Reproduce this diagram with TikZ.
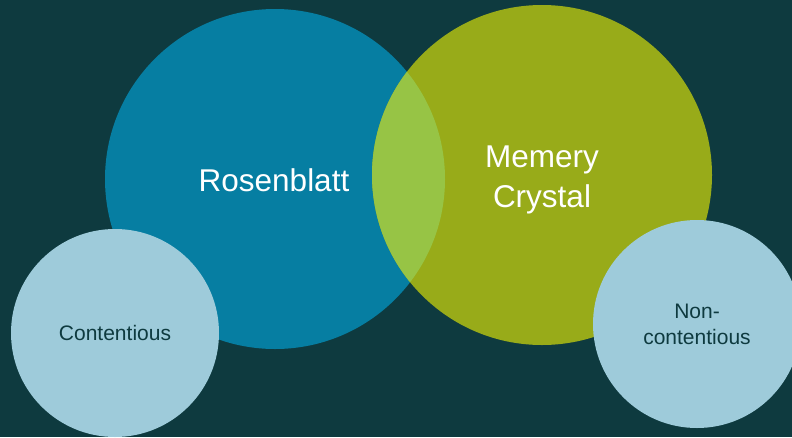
\documentclass[tikz,border=0pt]{standalone}
\usepackage{fontspec}
\setmainfont{Liberation Sans}
\definecolor{bg}{HTML}{0E3A3F}
\definecolor{bigblue}{HTML}{067EA2}
\definecolor{biggreen}{HTML}{98AB19}
\definecolor{overlap}{HTML}{97C445}
\definecolor{lightc}{HTML}{9ECBDA}
\begin{document}
\begin{tikzpicture}[x=1pt,y=-1pt,
  bigcirc/.style={circle,minimum size=340pt,inner sep=0pt,draw=none},
  smallcirc/.style={circle,minimum size=208pt,inner sep=0pt,fill=lightc,draw=none,
     text=bg,font=\fontsize{21}{26}\selectfont,align=center},
  biglabel/.style={text=white,font=\fontsize{31.5}{40}\selectfont,align=center,inner sep=0pt}]
\fill[bg] (0,0) rectangle (792,437);
\useasboundingbox (0,0) rectangle (792,437);
\node[bigcirc,fill=bigblue] (ros) at (275,179) {};
\node[bigcirc,fill=biggreen] (mem) at (542,175) {};
\begin{scope}
  \clip (275,179) circle[radius=170];
  \fill[overlap] (542,175) circle[radius=170];
\end{scope}
\node[biglabel] (rostext) at (274,180) {Rosenblatt};
\node[biglabel] (memtext) at (542,180) {Memery\\Crystal};
\node[smallcirc] (cont) at (115,333) {Contentious};
\node[smallcirc] (noncont) at (697,324) {Non-\\contentious};
\end{tikzpicture}
\end{document}
